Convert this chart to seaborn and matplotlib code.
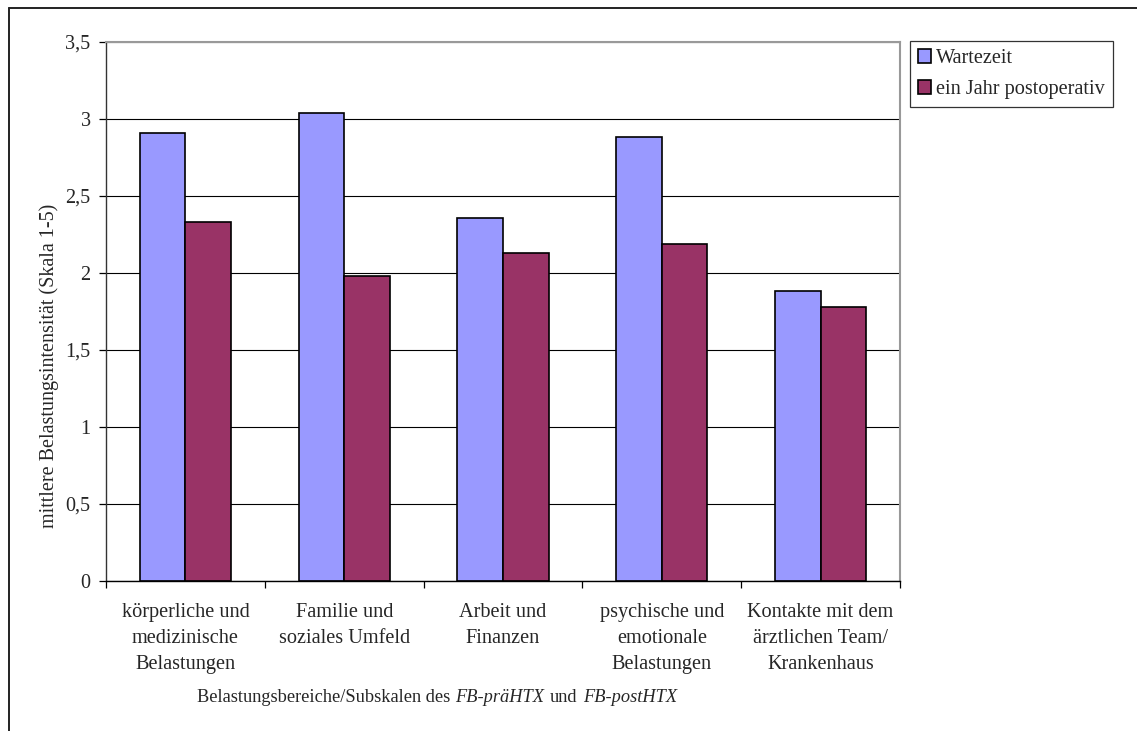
import matplotlib
matplotlib.use("Agg")
import matplotlib.pyplot as plt
from matplotlib.lines import Line2D
from matplotlib.patches import Patch
from matplotlib.offsetbox import TextArea, HPacker, AnnotationBbox
import pandas as pd
import seaborn as sns

# --- data -------------------------------------------------------------
categories = [
    "körperliche und\nmedizinische\nBelastungen",
    "Familie und\nsoziales Umfeld",
    "Arbeit und\nFinanzen",
    "psychische und\nemotionale\nBelastungen",
    "Kontakte mit dem\närztlichen Team/\nKrankenhaus",
]
series_names = ["Wartezeit", "ein Jahr postoperativ"]
wartezeit = [2.91, 3.04, 2.36, 2.88, 1.88]
postoperativ = [2.33, 1.98, 2.13, 2.19, 1.78]
y_ticks = [0, 0.5, 1, 1.5, 2, 2.5, 3, 3.5]
y_ticklabels = ["0", "0,5", "1", "1,5", "2", "2,5", "3", "3,5"]
colors = ["#9999FF", "#993366"]

df = pd.DataFrame({
    "Bereich": categories * 2,
    "Zeitpunkt": [series_names[0]] * len(categories) + [series_names[1]] * len(categories),
    "Wert": wartezeit + postoperativ,
})

# --- style ------------------------------------------------------------
sns.set_style("white")
plt.rcParams["font.family"] = ["Liberation Serif", "DejaVu Serif"]
FS = 14.6      # tick labels, legend
FS_Y = 14.5    # y-axis title
FS_X = 13.2    # x-axis title

W, H = 1137, 731
fig = plt.figure(figsize=(W / 100, H / 100), dpi=100)
ax = fig.add_axes([106 / W, 1 - 581 / H, (900 - 106) / W, (581 - 42) / H])

sns.barplot(
    data=df, x="Bereich", y="Wert", hue="Zeitpunkt", order=categories,
    hue_order=series_names, palette=colors, width=0.575, gap=0,
    edgecolor="black", linewidth=1.2, saturation=1, ax=ax, legend=False,
)

# --- axes -------------------------------------------------------------
ax.set_xlim(-0.5, len(categories) - 0.5)
ax.set_ylim(0, 3.5)
ax.set_yticks(y_ticks)
ax.set_yticklabels(y_ticklabels, fontsize=FS)
ax.yaxis.grid(True, color="black", linewidth=0.8)
ax.set_axisbelow(True)

ax.set_xticks(range(len(categories)))
ax.set_xticklabels(categories, fontsize=FS, linespacing=1.48)
ax.tick_params(axis="x", which="major", length=0, pad=16)
ax.set_xticks([i - 0.5 for i in range(len(categories) + 1)], minor=True)
ax.tick_params(axis="x", which="minor", length=5, width=0.9, color="black",
               direction="out", bottom=True)
ax.tick_params(axis="y", length=5, width=0.9, color="black", direction="out",
               left=True, pad=6)

for side in ["top", "right"]:
    ax.spines[side].set_color("#999999")
    ax.spines[side].set_linewidth(1.5)
ax.spines["left"].set_color("#333333")
ax.spines["left"].set_linewidth(1.0)
ax.spines["bottom"].set_color("black")
ax.spines["bottom"].set_linewidth(1.0)

ax.set_xlabel("")
ax.set_ylabel("mittlere Belastungsintensität (Skala 1-5)", fontsize=FS_Y)
ax.yaxis.set_label_coords(59 / W, 0.5, transform=fig.transFigure)

# x-axis title with italic questionnaire names
parts = [
    TextArea("Belastungsbereiche/Subskalen des", textprops=dict(fontsize=FS_X)),
    TextArea("FB-präHTX", textprops=dict(fontsize=FS_X, style="italic")),
    TextArea("und", textprops=dict(fontsize=FS_X)),
    TextArea("FB-postHTX", textprops=dict(fontsize=FS_X, style="italic")),
]
packed = HPacker(children=parts, sep=4, pad=0, align="baseline")
ab = AnnotationBbox(packed, (437 / W, 1 - 697 / H), xycoords="figure fraction",
                    frameon=False, box_alignment=(0.5, 0.5))
fig.add_artist(ab)

# --- legend -----------------------------------------------------------
handles = [Patch(facecolor=c, edgecolor="black", linewidth=1.2) for c in colors]
leg = fig.legend(
    handles, series_names, loc="upper left",
    bbox_to_anchor=(910 / W, 1 - 41 / H), bbox_transform=fig.transFigure,
    fontsize=FS, frameon=True, fancybox=False, shadow=False,
    handlelength=0.65, handleheight=0.65, handletextpad=0.25,
    labelspacing=0.6, borderpad=0.4, borderaxespad=0,
)
leg.get_frame().set_edgecolor("black")
leg.get_frame().set_linewidth(0.9)

# --- outer chart frame -------------------------------------------------
fig.add_artist(Line2D([8.5 / W, 8.5 / W], [0, 1 - 7.5 / H],
                      transform=fig.transFigure, color="#222222", linewidth=1.4))
fig.add_artist(Line2D([8.5 / W, 1], [1 - 7.5 / H, 1 - 7.5 / H],
                      transform=fig.transFigure, color="#222222", linewidth=1.4))

fig.savefig("out.png", dpi=100, facecolor="white")
